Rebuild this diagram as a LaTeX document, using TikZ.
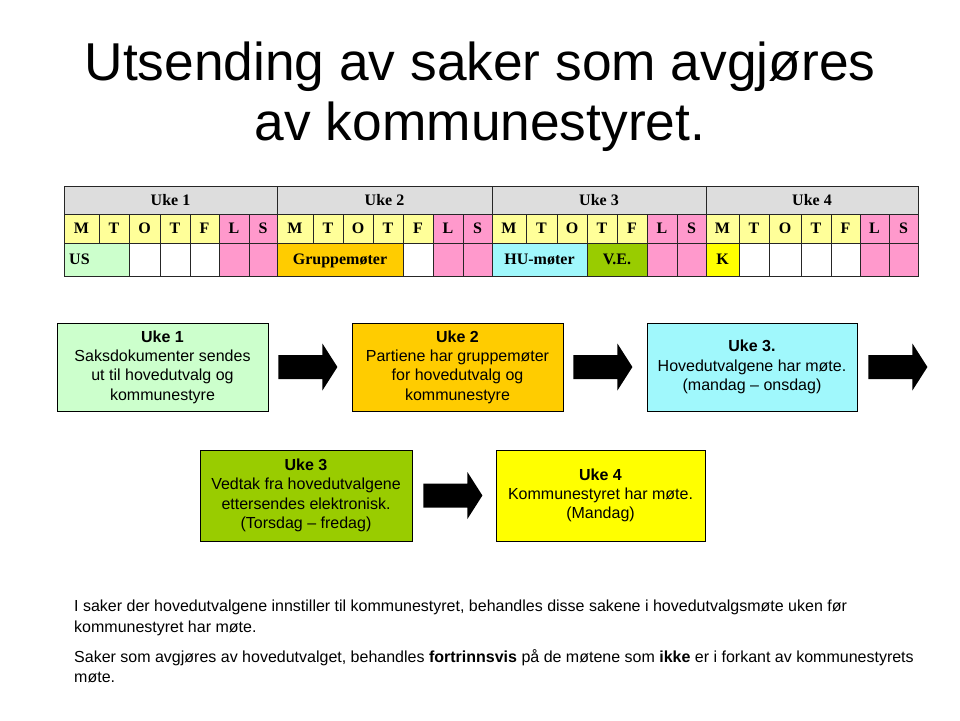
\documentclass[tikz,border=0pt]{standalone}
\usepackage{fontspec}
\setmainfont{Liberation Sans}
\newfontfamily\tabfont{Liberation Serif}
\usetikzlibrary{calc}
\definecolor{hdrgray}{HTML}{DDDDDD}
\definecolor{dayyellow}{HTML}{FFFF99}
\definecolor{wkpink}{HTML}{FF99CC}
\definecolor{usgreen}{HTML}{CCFFCC}
\definecolor{grporange}{HTML}{FFCC00}
\definecolor{hucyan}{HTML}{A0F8FC}
\definecolor{vegreen}{HTML}{99CC00}
\definecolor{kyellow}{HTML}{FFFF00}
\tikzset{
  tabcell/.style={draw=black!85, line width=0.7pt},
  tabtext/.style={font=\tabfont\bfseries\fontsize{16}{18}\selectfont, inner sep=0pt, text height=10.6pt, text depth=0pt, anchor=center},
  stepbox/.style={draw=black, line width=0.8pt, align=center, inner sep=2pt, font=\fontsize{16}{19.3}\selectfont},
  titletext/.style={font=\fontsize{53.3}{60}\selectfont, inner sep=0pt, anchor=base},
  notetext/.style={font=\fontsize{16}{20}\selectfont, inner sep=0pt, anchor=base west},
  blockarrow/.style={fill=black}
}
\newcommand\tcell[7]{%
  \filldraw[tabcell, fill=#5] (#1,#3) rectangle (#2,#4);
  \node[tabtext] (#6) at ({(#1+#2)/2},{(#3+#4)/2}) {#7};}
\newcommand\blkarrow[2]{%
  \fill[blockarrow, shift={($(#1.east)+(#2,0)$)}] (0,-12) -- (44,-12) -- (44,-23.5) -- (59,0) -- (44,23.5) -- (44,12) -- (0,12) -- cycle;}
\begin{document}
\begin{tikzpicture}[x=1pt,y=-1pt]
\useasboundingbox[fill=white] (0,0) rectangle (960,720);

% title
\node[titletext] (title1) at (480,80) {Utsending av saker som avgjøres};
\node[titletext] (title2) at (480,140) {av kommunestyret.};

% table header row
\tcell{64}{277}{186}{214}{hdrgray}{wk1}{Uke 1}
\tcell{277}{492}{186}{214}{hdrgray}{wk2}{Uke 2}
\tcell{492}{706}{186}{214}{hdrgray}{wk3}{Uke 3}
\tcell{706}{918}{186}{214}{hdrgray}{wk4}{Uke 4}

% day row
\foreach \xa/\xb/\lt/\cl [count=\i] in {
  64/99/M/dayyellow, 99/129/T/dayyellow, 129/160/O/dayyellow, 160/190/T/dayyellow, 190/219/F/dayyellow, 219/249/L/wkpink, 249/277/S/wkpink,
  277/313/M/dayyellow, 313/343/T/dayyellow, 343/373/O/dayyellow, 373/403/T/dayyellow, 403/433/F/dayyellow, 433/463/L/wkpink, 463/492/S/wkpink,
  492/526/M/dayyellow, 526/557/T/dayyellow, 557/587/O/dayyellow, 587/617/T/dayyellow, 617/647/F/dayyellow, 647/677/L/wkpink, 677/706/S/wkpink,
  706/739/M/dayyellow, 739/769/T/dayyellow, 769/801/O/dayyellow, 801/831/T/dayyellow, 831/860/F/dayyellow, 860/889/L/wkpink, 889/918/S/wkpink}
  {\tcell{\xa}{\xb}{214}{243}{\cl}{day\i}{\lt}}

% activity row
\filldraw[tabcell, fill=usgreen] (64,243) rectangle (129,276);
\node[tabtext, anchor=west] (us) at (69,259.5) {US};
\foreach \xa/\xb/\cl/\tx [count=\i] in {
  129/160/white/, 160/190/white/, 190/219/white/, 219/249/wkpink/, 249/277/wkpink/,
  277/403/grporange/Gruppemøter, 403/433/white/, 433/463/wkpink/, 463/492/wkpink/,
  492/587/hucyan/HU-møter, 587/647/vegreen/V.E., 647/677/wkpink/, 677/706/wkpink/,
  706/739/kyellow/K, 739/769/white/, 769/801/white/, 801/831/white/, 831/860/white/, 860/889/wkpink/, 889/918/wkpink/}
  {\tcell{\xa}{\xb}{243}{276}{\cl}{act\i}{\tx}}

% process boxes
\node[stepbox, fill=usgreen, minimum width=211pt, minimum height=88pt] (b1) at (162.5,367)
  {\textbf{Uke 1}\\Saksdokumenter sendes\\ut til hovedutvalg og\\kommunestyre};
\node[stepbox, fill=grporange, minimum width=211pt, minimum height=88pt] (b2) at (457.5,367)
  {\textbf{Uke 2}\\Partiene har gruppemøter\\for hovedutvalg og\\kommunestyre};
\node[stepbox, fill=hucyan, minimum width=210pt, minimum height=88pt] (b3) at (752,367)
  {\textbf{Uke 3.}\\Hovedutvalgene har møte.\\(mandag – onsdag)};
\node[stepbox, fill=vegreen, minimum width=212pt, minimum height=91pt] (b4) at (306,495.5)
  {\textbf{Uke 3}\\Vedtak fra hovedutvalgene\\ettersendes elektronisk.\\(Torsdag – fredag)};
\node[stepbox, fill=kyellow, minimum width=209pt, minimum height=91pt] (b5) at (600.5,495.5)
  {\textbf{Uke 4}\\Kommunestyret har møte.\\(Mandag)};

% block arrows
\blkarrow{b1}{10}
\blkarrow{b2}{10}
\blkarrow{b3}{11}
\blkarrow{b4}{11}

% notes
\node[notetext] (n1a) at (74,611) {I saker der hovedutvalgene innstiller til kommunestyret, behandles disse sakene i hovedutvalgsmøte uken før};
\node[notetext] (n1b) at (74,632) {kommunestyret har møte.};
\node[notetext] (n2a) at (74,662) {Saker som avgjøres av hovedutvalget, behandles \textbf{fortrinnsvis} på de møtene som \textbf{ikke} er i forkant av kommunestyrets};
\node[notetext] (n2b) at (74,682) {møte.};
\end{tikzpicture}
\end{document}
